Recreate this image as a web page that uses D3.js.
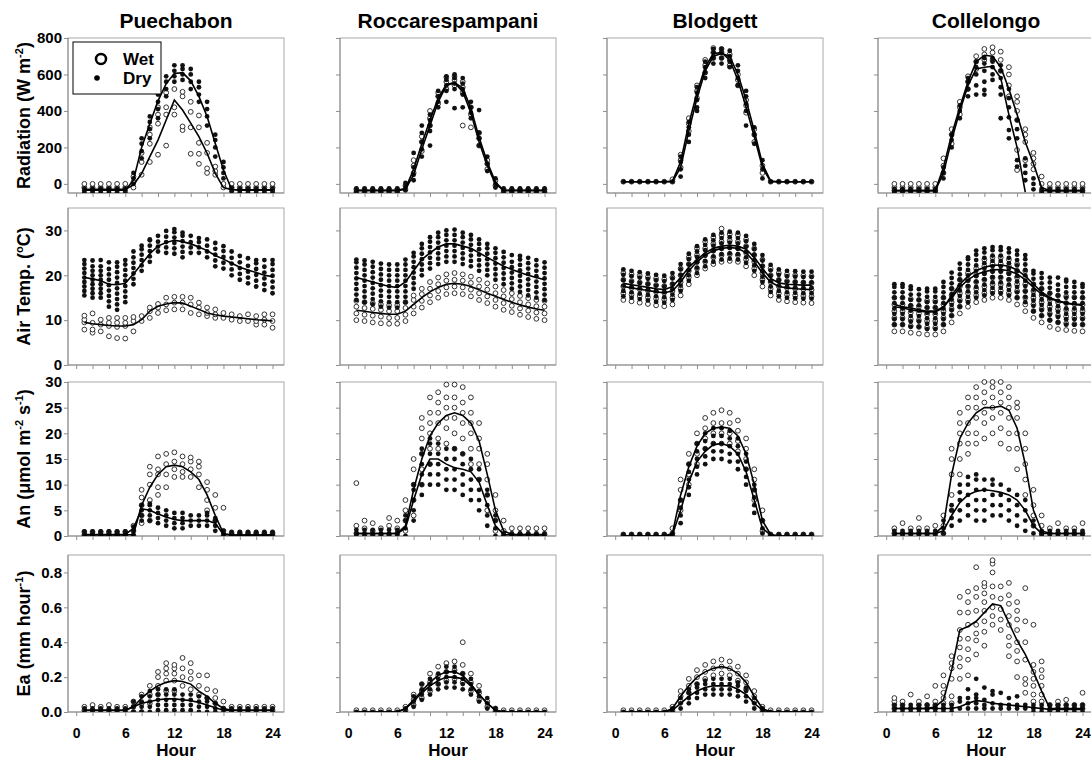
<!DOCTYPE html>
<html>
<head>
<meta charset="utf-8">
<script src="https://cdn.jsdelivr.net/npm/d3@7"></script>
<style>
  body { margin: 0; background: #fff; }
  svg text { font-family: "Liberation Sans", Arial, sans-serif; font-weight: bold; fill: #000; }
</style>
</head>
<body>
<svg id="chart" width="1091" height="761"></svg>
<script>
"use strict";

const HOURS = [1,2,3,4,5,6,7,8,9,10,11,12,13,14,15,16,17,18,19,20,21,22,23,24];
const SITES = ["Puechabon", "Roccarespampani", "Blodgett", "Collelongo"];
const X_MINOR_TICKS = [0,2,4,6,8,10,12,14,16,18,20,22,24];
const X_TICK_LABELS = [0, 6, 12, 18, 24];
const Y_DOMAINS = [[-50, 800], [0, 35], [0, 30], [0, 0.9]];
const Y_TICKS = [[0,200,400,600,800], [0,10,20,30], [0,5,10,15,20,25,30], [0,0.2,0.4,0.6,0.8]];
const Y_LABELS = [
    [["Radiation (W m", false], ["-2", true], [")", false]],
    [["Air Temp. (", false], ["o", true], ["C)", false]],
    [["An (\u03bcmol m", false], ["-2", true], [" s", false], ["-1", true], [")", false]],
    [["Ea (mm hour", false], ["-1", true], [")", false]]
];

// ---- Radiation (W m-2), one array per site ----
const RAD_WET_LINE = [
    [-30,-30,-30,-30,-30,-30,-5,57,150,240,350,460,405,333,259,168,58,-20,-32,-32,-32,-32,-32,-32],
    [-35,-35,-35,-35,-35,-35,-25,80,220,350,470,545,555,505,390,230,100,0,-35,-35,-35,-35,-35,-35],
    [12,12,12,12,12,12,15,120,330,500,640,715,720,680,570,420,260,90,12,12,12,12,12,12],
    [-37,-37,-37,-37,-37,-37,90,270,420,560,670,705,700,640,520,380,230,110,-20,-37,-37,-37,-37,-37]
];
const RAD_DRY_LINE = [
    [-35,-35,-35,-35,-35,-35,20,200,330,455,550,605,610,565,480,370,222,76,-30,-35,-35,-35,-35,-35],
    [-37,-37,-37,-37,-37,-37,-30,50,190,320,450,540,555,525,415,255,120,10,-37,-37,-37,-37,-37,-37],
    [12,12,12,12,12,12,12,90,290,470,620,700,715,700,600,460,290,110,15,12,12,12,12,12],
    [-37,-37,-37,-37,-37,-37,60,240,400,540,630,640,645,580,380,200,-45,null,-37,-37,-37,-37,-37,-37]
];
const RAD_WET_PTS = [
    [[-20,0],[-20,0],[-20,0],[-20,0],[-20,0],[-20,0],[-20,10,40],[50,120,170],[120,220,270,310],[160,330,380,420],[210,380,420,500],[380,420,520],[295,315,480,505],[165,310,395,450],[110,165,225,310,375],[60,85,170,225],[50,70,95],[-20,0],[-20,0],[-20,0],[-20,0],[-20,0],[-20,0],[-20,0]],
    [[-45,-30],[-45,-30],[-45,-30],[-45,-30],[-45,-30],[-45,-30],[-30,-10],[60,100,130],[180,230,260],[320,360,400],[440,480,500],[520,560,585],[540,570,590],[320,500,530,560],[310,380,420],[210,250,280],[80,110,130],[-10,20],[-45,-30],[-45,-30],[-45,-30],[-45,-30],[-45,-30],[-45,-30]],
    [[12],[12],[12],[12],[12],[12],[12,25],[90,130,160],[290,330,360],[470,510,540],[610,650,680],[690,720,745],[690,720,740],[650,680,710],[540,570,600],[390,430,460],[230,270,300],[60,100],[12],[12],[12],[12],[12],[12]],
    [[-37,-20,0],[-37,-20,0],[-37,-20,0],[-37,-20,0],[-37,-20,0],[-37,-20,0],[60,100,140],[220,270,300],[380,420,450],[520,560,590],[630,670,700],[680,710,740],[680,720,749],[620,680,725],[480,540,600,640],[76,186,350,400,450,480],[130,230,270,300],[80,110,140,170],[0,40],[-37,-20,0],[-37,-20,0],[-37,-20,0],[-37,-20,0],[-37,-20,0]]
];
const RAD_DRY_PTS = [
    [[-45,-35,-25],[-45,-35,-25],[-45,-35,-25],[-45,-35,-25],[-45,-35,-25],[-45,-35,-25],[0,30,60],[140,180,220,250],[250,300,340,370],[360,410,450,490],[480,520,560,590],[560,590,620,650],[570,600,630,650],[520,560,600,630],[450,490,530,560],[320,370,410,450],[150,200,240,270],[30,60,90,120],[-40,-30,-20],[-45,-35,-25],[-45,-35,-25],[-45,-35,-25],[-45,-35,-25],[-45,-35,-25]],
    [[-50,-37,-25],[-50,-37,-25],[-50,-37,-25],[-50,-37,-25],[-50,-37,-25],[-50,-37,-25],[-35,-15,5],[20,50,90,170],[150,190,230,280,320],[210,290,320,350,380],[420,450,480,510],[450,510,540,570,590],[415,520,550,580,600],[420,490,520,550,580],[360,390,420,450],[210,250,280,405],[70,110,150],[-20,0,30],[-50,-37,-25],[-50,-37,-25],[-50,-37,-25],[-50,-37,-25],[-50,-37,-25],[-50,-37,-25]],
    [[12],[12],[12],[12],[12],[12],[12],[40,80,120,150],[230,270,310,340],[400,420,460,500,530],[580,610,640,670],[660,690,720,740],[660,690,720,740],[640,670,700,730],[540,580,620,650],[320,400,440,480,510],[220,270,310],[30,80,130],[12],[12],[12],[12],[12],[12]],
    [[-45,-37,-28],[-45,-37,-28],[-45,-37,-28],[-45,-37,-28],[-45,-37,-28],[-45,-37,-28],[30,60,90],[200,240,270],[360,400,430],[480,520,560,580],[490,540,600,640,670],[490,515,560,620,660,690],[570,600,640,670,690],[360,490,530,580,620,650],[250,295,365,420,470,520],[95,130,250,300,350],[20,60,100,140],[-30,0,30],[-45,-37,-28],[-45,-37,-28],[-45,-37,-28],[-45,-37,-28],[-45,-37,-28],[-45,-37,-28]]
];

// ---- Air temperature (oC) ----
const TEMP_WET_LINE = [
    [9.5,9.2,9,8.8,8.7,8.7,9,10.1,12,13.1,13.6,13.9,13.8,13.1,12.4,11.6,11.2,10.9,10.7,10.5,10.3,10.1,10,9.8],
    [12.2,12,11.7,11.5,11.3,11.3,12,13.5,15,16.3,17.3,18,18.2,18,17.5,16.8,16,15.3,14.6,14,13.4,12.9,12.5,12.2],
    [17.5,17.2,16.9,16.6,16.3,16.1,16.5,18.5,21,23,24.5,25.5,26,26.2,26,25,23,20.5,18.5,17.5,17.2,17,16.9,16.8],
    [13,12.7,12.3,12,11.8,11.8,12.8,15.5,18,19.8,21,21.8,22.2,22.3,22,21.2,19.8,18,16.3,15,14.3,13.8,13.5,13.3]
];
const TEMP_DRY_LINE = [
    [19.5,19.2,18.8,18,17.9,18.2,20.3,22.5,24.8,26.5,27.3,27.8,27.5,27,26.3,25.5,24.4,23.6,22.7,21.8,21.2,20.6,20,19.7],
    [19.5,19,18.5,18,17.5,17.3,18.5,21,23.5,25,26.3,27,27,26.5,26,25,24,23,22,21.3,20.6,20,19.5,19],
    [18.2,17.9,17.6,17.3,17,16.8,17.5,19.5,21.8,23.5,25,26,26.5,26.7,26.5,25.8,24,21.5,19.3,18.3,18,17.9,17.8,17.8],
    [13.5,13,12.7,12.3,12,12,13,15,17.3,19,20.2,20.8,21.2,21.3,21,20.3,19,17.3,15.8,14.8,14.2,13.8,13.6,13.5]
];
const TEMP_WET_PTS = [
    [[7.9,9.5,10.1,11],[7.2,7.9,9.4,11.5],[7.5,9,10.1],[6.4,8.7,9.4,10.5],[6,8.5,9.4,10.5],[5.9,8.7,9.4,10.5],[7.5,9.8,10.7],[9.8,10.9],[10.5,12,12.8],[11.6,12.8,13.6],[12.2,13.5,15],[12.4,13.9,15.2],[12.4,13.9,15.2],[11.6,13.5,15],[11.3,12.8,13.9],[10.9,11.6,12.8],[10.5,11.3,12.4],[10.5,11.6],[10.1,11.3],[9.8,10.9],[9.8,11.3],[9,9.8,10.9],[9,10.1,11.3],[8.3,9.8,11.3]],
    [[10,11.5,13,14.3],[9.8,11.2,12.7,14],[9.5,11,12.5,13.8],[9.3,10.8,12.3,13.5],[9.2,10.5,12,13.3],[9.2,10.5,12,13.3],[9.8,11.2,12.7,14],[11.5,13,14.5,15.5],[12.8,14.3,15.8,17],[14,15.5,17,18.5],[15,16.5,18,19.5],[15.8,17.3,18.8,20.2],[16,17.5,19,20.5],[15.8,17.3,18.8,20.2],[15.3,16.8,18.3,19.7],[14.5,16,17.5,19],[13.8,15.3,16.8,18.2],[13,14.5,16,17.5],[12.3,13.8,15.3,16.7],[11.8,13.2,14.7,16],[11.2,12.6,14,15.4],[10.7,12.1,13.5,14.9],[10.3,11.7,13.1,14.5],[10,11.5,13,14.3]],
    [[14.5,16,17.5,19,20.5],[14.2,15.7,17.2,18.7,20.2],[13.9,15.4,16.9,18.4,19.9],[13.6,15.1,16.6,18.1,19.6],[13.3,14.8,16.3,17.8,19.3],[13.1,14.6,16.1,17.6,19.1],[13.5,15,16.5,18,19.5],[15.5,17,18.5,20,21.5],[18,19.5,21,22.5,24],[20,21.5,23,24.5,26],[21.5,23,24.5,26,27.5],[22.5,24,25.5,27,28.5],[23,24.5,26,27.5,29,30.4],[23.2,24.7,26.2,27.7,29.2],[23,24.5,26,27.5,29],[22,23.5,25,26.5,28],[20,21.5,23,24.5,26],[17.5,19,20.5,22,23.5],[15.5,17,18.5,20,21.5],[14.5,16,17.5,19,20.5],[14.2,15.7,17.2,18.7,20.2],[14,15.5,17,18.5,20],[13.9,15.4,16.9,18.4,19.9],[13.8,15.3,16.8,18.3,19.8]],
    [[7.5,9,10.5,12,13.5,15],[7.5,9,10.5,12,13.5,15],[7.2,8.7,10.2,11.7,13.2,14.7],[7,8.5,10,11.5,13,14.5],[6.8,8.3,9.8,11.3,12.8,14.3],[6.8,8.3,9.8,11.3,12.8,14.3],[7.5,9,10.5,12,13.5,15],[9.5,11,12.5,14,15.5,17],[11.5,13,14.5,16,17.5,19],[13,14.5,16,17.5,19,20.5],[14,15.5,17,18.5,20,21.5],[14.5,16,17.5,19,20.5,22,23.5],[15,16.5,18,19.5,21,22.5,24],[15,16.5,18,19.5,21,22.5,24],[14.5,16,17.5,19,20.5,22,23.5],[13.5,15,16.5,18,19.5,21,22.5],[12,13.5,15,16.5,18,19.5,21],[10.5,12,13.5,15,16.5,18],[9.5,11,12.5,14,15.5,17],[8.5,10,11.5,13,14.5,16],[8,9.5,11,12.5,14,15.5],[7.8,9.3,10.8,12.3,13.8,15.3],[7.6,9.1,10.6,12.1,13.6,15.1],[7.5,9,10.5,12,13.5,15]]
];
const TEMP_DRY_PTS = [
    [[15.5,16.5,17.5,18.5,19.5,20.5,21.5,22.5,23.4],[15,16,17,18,19,20,21,22,23.3],[15,16,17,18,19,20,21,22,23.4],[13,14.2,15.4,16.6,17.8,19,20.2,21.4,22.9],[12.3,13.5,14.7,15.9,17.1,18.3,19.5,20.7,21.9,22.9],[14,15.2,16.4,17.6,18.8,20,21.2,22.4,23.4],[18,19.2,20.4,21.6,22.8,24,25.3],[21,22.2,23.4,24.6,25.8,26.6],[23,24.2,25.4,26.6,27.8,28],[25.3,26.4,27.5,28.8],[25,26.2,27.4,28.6,29.9],[24.8,26,27.2,28.4,29.6,30.3],[24,25.2,26.4,27.6,28.8,29.5],[25,26.2,27.4,28.8],[25,26.2,27.4,28.3],[24,25.3,26.6,28],[22,23.3,24.6,25.9,27.2],[21.5,22.8,24.1,25.4,26.5],[20,21.3,22.6,23.9,25.3],[19,20.3,21.6,22.9,24.3],[18.2,19.5,20.8,22.1,23.8],[17.5,18.8,20.1,21.4,22.7,23.4],[16.7,18,19.3,20.6,21.9,23.4],[16,17.3,18.6,19.9,21.2,22.5,23.4]],
    [[14.5,15.7,16.9,18.1,19.3,20.5,21.7,22.9,23.5],[14,15.2,16.4,17.6,18.8,20,21.2,22.4,23.3],[13.5,14.7,15.9,17.1,18.3,19.5,20.7,21.9,23],[13,14.2,15.4,16.6,17.8,19,20.2,21.4,22.6],[12.8,14,15.2,16.4,17.6,18.8,20,21.2,22.4],[12.8,14,15.2,16.4,17.6,18.8,20,21.2,22.4],[14,15.2,16.4,17.6,18.8,20,21.2,22.4,23.5],[17,18.2,19.4,20.6,21.8,23,24.2,25],[20,21.2,22.4,23.6,24.8,26,27],[21.5,22.7,23.9,25.1,26.3,27.5,28.5],[22.5,23.7,24.9,26.1,27.3,28.5,29.5],[23,24.2,25.4,26.6,27.8,29,30],[23,24.2,25.4,26.6,27.8,29,30.2],[22.5,23.7,24.9,26.1,27.3,28.5,29.5],[22,23.2,24.4,25.6,26.8,28,29],[21,22.2,23.4,24.6,25.8,27,28],[20,21.2,22.4,23.6,24.8,26,27],[19,20.2,21.4,22.6,23.8,25,26],[18,19.2,20.4,21.6,22.8,24,25.2],[17,18.2,19.4,20.6,21.8,23,24.5],[16.3,17.5,18.7,19.9,21.1,22.3,23.5,24.3],[15.5,16.7,17.9,19.1,20.3,21.5,22.7,23.9],[15,16.2,17.4,18.6,19.8,21,22.2,23.4],[14.5,15.7,16.9,18.1,19.3,20.5,21.7,22.9]],
    [[15.3,16.5,17.7,18.9,20.1,21.3],[15,16.2,17.4,18.6,19.8,21],[14.7,15.9,17.1,18.3,19.5,20.7],[14.4,15.6,16.8,18,19.2,20.4],[14.1,15.3,16.5,17.7,18.9,20.1],[13.9,15.1,16.3,17.5,18.7,19.9],[14.5,15.7,16.9,18.1,19.3,20.5],[16.5,17.7,18.9,20.1,21.3,22.5],[18.8,20,21.2,22.4,23.6,24.8],[20.5,21.7,22.9,24.1,25.3,26.5],[22,23.2,24.4,25.6,26.8,28],[23,24.2,25.4,26.6,27.8,29],[23.5,24.7,25.9,27.1,28.3,29.5],[23.7,24.9,26.1,27.3,28.5,29.7],[23.5,24.7,25.9,27.1,28.3,29.5],[22.8,24,25.2,26.4,27.6,28.8],[21,22.2,23.4,24.6,25.8,27],[18.5,19.7,20.9,22.1,23.3,24.5],[16.3,17.5,18.7,19.9,21.1,22.3],[15.3,16.5,17.7,18.9,20.1,21.3],[15,16.2,17.4,18.6,19.8,21],[14.9,16.1,17.3,18.5,19.7,20.9],[14.8,16,17.2,18.4,19.6,20.8],[14.8,16,17.2,18.4,19.6,20.8]],
    [[9,10.2,11.4,12.6,13.8,15,16.2,17.4,18],[9,10.2,11.4,12.6,13.8,15,16.2,17.4,18],[8.5,9.7,10.9,12.1,13.3,14.5,15.7,16.9,17.5],[8.5,9.7,10.9,12.1,13.3,14.5,15.7,16.9],[8,9.2,10.4,11.6,12.8,14,15.2,16.4,17],[8,9.2,10.4,11.6,12.8,14,15.2,16.4,17],[9,10.2,11.4,12.6,13.8,15,16.2,17.4,18.5],[11,12.2,13.4,14.6,15.8,17,18.2,19.4,20.6],[13,14.2,15.4,16.6,17.8,19,20.2,21.4,22.6],[14,15.2,16.4,17.6,18.8,20,21.2,22.4,23.6,24],[15,16.2,17.4,18.6,19.8,21,22.2,23.4,24.6,25.5],[15.5,16.7,17.9,19.1,20.3,21.5,22.7,23.9,25.1,26],[16,17.2,18.4,19.6,20.8,22,23.2,24.4,25.6,26.3],[16,17.2,18.4,19.6,20.8,22,23.2,24.4,25.6,26.3],[15.5,16.7,17.9,19.1,20.3,21.5,22.7,23.9,25.1,26],[15,16.2,17.4,18.6,19.8,21,22.2,23.4,24.6,25.5],[14,15.2,16.4,17.6,18.8,20,21.2,22.4,23.6,24.5],[12,13.2,14.4,15.6,16.8,18,19.2,20.4,21],[11,12.2,13.4,14.6,15.8,17,18.2,19.4,20.5],[10,11.2,12.4,13.6,14.8,16,17.2,18.4,19.5],[9.5,10.7,11.9,13.1,14.3,15.5,16.7,17.9,19.5],[9,10.2,11.4,12.6,13.8,15,16.2,17.4,18.6,19],[9,10.2,11.4,12.6,13.8,15,16.2,17.4,18.5],[9,10.2,11.4,12.6,13.8,15,16.2,17.4,18]]
];

// ---- Net assimilation An (umol m-2 s-1) ----
const AN_WET_LINE = [
    [0.2,0.2,0.2,0.2,0.2,0.2,0.3,6,9.5,12,13.5,13.8,13.5,12.5,11,8,4,0.5,0.2,0.2,0.2,0.2,0.2,0.2],
    [0.5,0.5,0.5,0.5,0.5,0.5,2,9,15,19.5,22,23.5,24,23.5,22,18.5,12,5,1,0.3,0.3,0.3,0.3,0.3],
    [0,0,0,0,0,0,0.5,8,13.5,17.5,20,21,21.2,21,19.5,16,10,3,0.3,0,0,0,0,0],
    [0.5,0.5,0.5,0.5,0.5,0.5,2,12,19,22,24,25,25,25.3,24.5,21,14,5,1,0.5,0.5,0.5,0.5,0.5]
];
const AN_DRY_LINE = [
    [0.3,0.3,0.3,0.3,0.3,0.3,1.5,5.3,5,4.3,3.7,3.2,3,3,3,3,2.5,0.3,0.2,0.2,0.2,0.2,0.2,0.2],
    [0.5,0.5,0.5,0.5,0.5,0.5,1.5,7,12,15,15,14,13.3,13,12.5,10.5,6,2,0.3,0.2,0.2,0.2,0.2,0.2],
    [0,0,0,0,0,0,0.3,5,10.5,14.5,16.5,17.8,18,17.5,16,12.5,7,1.5,0.2,0,0,0,0,0],
    [0.5,0.5,0.5,0.5,0.5,0.5,1,4,6.5,8,8.7,9,8.8,8.5,8,7,5,2,0.5,0.5,0.5,0.5,0.5,0.5]
];
const AN_WET_PTS = [
    [[0.2,0.8],[0.2,0.8],[0.2,0.8],[0.2,0.8],[0.2,0.8],[0.2,0.8],[0,1,2],[2.5,4,6,7.5,9],[3,7,10,12,13.5],[8,9.5,12,13,15.5],[9.5,12,14,16],[11.5,13,14.5,16.3],[11.5,12.5,14,15.5],[11.5,13,14.5,15.3],[9.5,12,13.5,14.5],[5,7,9,10.5],[3,5.5,8],[0,1,5.5],[0.2,0.6],[0.2,0.6],[0.2,0.6],[0.2,0.6],[0.2,0.6],[0.2,0.6]],
    [[0.5,2,10.3],[0.3,1.5,3],[0.3,1,2.5],[0.3,1.5],[0.3,2,3.5],[0.5,1.5,3],[1,3,5,7],[4,7,10,13,15],[10,13,16,19,21,23],[14,17,20,22,24,27],[17,19,22,24,26,28],[18,21,23,25,27,29.5],[17,20,23,25,27,29.5],[16,19,22,24,26,29],[14,17,20,22,24,27],[11,14,17,19,22],[5,8,11,14,16],[1,3,5,8],[0,1,3],[0.3,1.5],[0.3,1.5],[0.3,1.5],[0.3,1.5],[0.3,1.5]],
    [[0,0.3],[0,0.3],[0,0.3],[0,0.3],[0,0.3],[0,0.3],[0,0.5,1.5],[5,7,9,11],[10,12,14,16],[14,16,18,20],[17,19,21,23],[18,20,22,24],[18,20,22,24.5],[18,20,22,24],[16.5,18.5,20.5,22.5],[13,15,17,19],[7,9,11,13],[1,3,5],[0,0.3],[0,0.3],[0,0.3],[0,0.3],[0,0.3],[0,0.3]],
    [[0.5,1.5],[0.5,2.5],[0.5,1.5],[0.5,1.5,3.5],[0.5,1.5],[0.5,2],[0.5,2,4],[5,8,12,15,17],[12,15,18,20,22,24],[16,18,20,22,25,27],[18,20,23,25,27,29],[19,22,24,26,28,30],[20,23,25,27,29,30],[18,21,24,26,28,30],[17,20,23,25,27,29],[13,17,20,23,25,26],[8,11,14,17,20],[2,4,6,9],[0.5,2,4],[0.5,1.5],[0.5,2.5],[0.5,1.5],[0.5,1.5],[0.5,2.5]]
];
const AN_DRY_PTS = [
    [[0,0.4,0.9],[0,0.4,0.9],[0,0.4,0.9],[0,0.4,0.9],[0,0.4,0.9],[0,0.4,0.9],[0.3,1,1.8],[3,4,5,6],[3,4,5,6,6.3],[2.5,3.5,4.5,5.5],[2,3,4,5],[1.5,2.5,3.5,4.5],[1.5,2.5,3.5,4.5],[2,3,4],[2,3,4],[2,3,4,4.5],[1,2,3,3.5],[0,0.5,1],[0,0.4,0.8],[0,0.4,0.8],[0,0.4,0.8],[0,0.4,0.8],[0,0.4,0.8],[0,0.4,0.8]],
    [[0,0.5,1.2],[0,0.5,1.2],[0,0.5,1.2],[0,0.5,1.2],[0,0.5,1.2],[0,0.5,1.2],[0,1.5,3,4],[3,5,7,9,10],[8,10,12,14,16,17],[10,12,14,16,18,19],[10,12,14,16,18],[9,11,13,15,17],[9,11,13,15,17],[8,10,12,14,16],[7,9,11,13,15],[5,7,9,11,13],[2,4,6,8,9],[0,1.5,3,4],[0,0.5],[0,0.5],[0,0.5],[0,0.5],[0,0.5],[0,0.5]],
    [[0,0.3],[0,0.3],[0,0.3],[0,0.3],[0,0.3],[0,0.3],[0,0.5],[2.5,4,5.5,7],[8,9.5,11,12.5,14],[12,13.5,15,16.5,18],[14,15.5,17,18.5,20],[15,16.5,18,19.5,21],[15,16.5,18,19.5,21],[14.5,16,17.5,19,20.5],[13,14.5,16,17.5,19],[10,11.5,13,14.5,16],[4.5,6,7.5,9,10],[0.5,1.5,3],[0,0.3],[0,0.3],[0,0.3],[0,0.3],[0,0.3],[0,0.3]],
    [[0,0.5,1],[0,0.5,1],[0,0.5,1],[0,0.5,1],[0,0.5,1],[0,0.5,1],[0.5,1.5,3],[2,3.5,5,6],[3,5,7,8.5,10],[4,6,8,10,11.5],[3,5,7,9,11,12],[3,5,7,9,11],[4,6,8,10,11],[4,6,8,10],[3,5,7,9],[2,4,6,8],[1,3,5,7],[0.5,2,3],[0,0.5,1],[0,0.5,1],[0,0.5,1],[0,0.5,1],[0,0.5,1],[0,0.5,1]]
];

// ---- Actual evapotranspiration Ea (mm hour-1) ----
const EA_WET_LINE = [
    [0.01,0.01,0.01,0.01,0.01,0.01,0.03,0.08,0.12,0.15,0.17,0.18,0.175,0.16,0.12,0.09,0.05,0.02,0.01,0.01,0.01,0.01,0.01,0.01],
    [0,0,0,0,0,0,0.02,0.07,0.12,0.17,0.21,0.23,0.23,0.21,0.16,0.1,0.05,0.01,0,0,0,0,0,0],
    [0,0,0,0,0,0,0.02,0.09,0.15,0.2,0.23,0.25,0.26,0.25,0.22,0.17,0.09,0.02,0,0,0,0,0,0],
    [0.02,0.02,0.02,0.02,0.02,0.03,0.07,0.24,0.47,0.49,0.52,0.57,0.62,0.61,0.51,0.41,0.33,0.23,0.12,0.02,0.02,0.02,0.02,0.02]
];
const EA_DRY_LINE = [
    [0.01,0.01,0.01,0.01,0.01,0.01,0.03,0.05,0.06,0.07,0.075,0.075,0.07,0.065,0.055,0.04,0.025,0.01,0.01,0.01,0.01,0.01,0.01,0.01],
    [0,0,0,0,0,0,0.02,0.06,0.11,0.15,0.18,0.2,0.2,0.19,0.15,0.1,0.05,0.01,0,0,0,0,0,0],
    [0,0,0,0,0,0,0.01,0.05,0.09,0.12,0.14,0.15,0.15,0.15,0.13,0.1,0.05,0.01,0,0,0,0,0,0],
    [0.02,0.02,0.02,0.02,0.02,0.02,0.02,0.02,0.03,0.05,0.065,0.06,0.05,0.045,0.04,0.035,0.03,0.025,0.02,0.015,0.015,0.015,0.015,0.015]
];
const EA_WET_PTS = [
    [[0.01,0.03],[0.01,0.04],[0.01,0.03],[0.01,0.04],[0.01,0.03],[0.01,0.03],[0,0.03,0.06],[0,0.05,0.1],[0.05,0.1,0.15],[0.1,0.15,0.2,0.23],[0.12,0.18,0.22,0.25,0.28],[0.12,0.18,0.22,0.25,0.27],[0.15,0.2,0.25,0.31],[0.13,0.19,0.23,0.28],[0.1,0.15,0.21],[0.08,0.13,0.21],[0.05,0.08,0.12],[0.02,0.06],[0.01,0.03],[0.01,0.03],[0.01,0.03],[0.01,0.03],[0.01,0.03],[0.01,0.03]],
    [[0,0.01],[0,0.01],[0,0.01],[0,0.01],[0,0.01],[0,0.01],[0.01,0.03],[0.04,0.07,0.1],[0.08,0.12,0.16],[0.12,0.17,0.22],[0.16,0.21,0.26],[0.18,0.23,0.28],[0.19,0.24,0.29],[0.17,0.22,0.27,0.4],[0.12,0.17,0.22],[0.07,0.11,0.15],[0.03,0.06],[0.005,0.02],[0,0.01],[0,0.01],[0,0.01],[0,0.01],[0,0.01],[0,0.01]],
    [[0,0.01],[0,0.01],[0,0.01],[0,0.01],[0,0.01],[0,0.01],[0.01,0.03],[0.06,0.09,0.12],[0.11,0.15,0.19],[0.16,0.2,0.24],[0.19,0.23,0.27],[0.21,0.25,0.29],[0.22,0.26,0.3],[0.21,0.25,0.29],[0.18,0.22,0.26],[0.13,0.17,0.21],[0.06,0.09,0.12],[0.01,0.03],[0,0.01],[0,0.01],[0,0.01],[0,0.01],[0,0.01],[0,0.01]],
    [[0.02,0.04,0.06,0.08],[0.02,0.04,0.06],[0.02,0.1],[0.02,0.04,0.06],[0.02,0.04,0.09],[0.02,0.04,0.06,0.15],[0.02,0.05,0.08,0.11,0.15,0.21],[0.05,0.09,0.19,0.25,0.28,0.32],[0.19,0.26,0.31,0.37,0.42,0.47,0.57,0.66],[0.21,0.3,0.36,0.42,0.5,0.57,0.63,0.69],[0.33,0.41,0.45,0.5,0.58,0.66,0.71,0.83],[0.38,0.46,0.52,0.58,0.63,0.68,0.72,0.74],[0.5,0.55,0.6,0.66,0.72,0.8,0.85,0.87],[0.47,0.53,0.59,0.65,0.72],[0.32,0.38,0.43,0.5,0.55,0.62,0.67,0.74],[0.2,0.29,0.35,0.4,0.47,0.53,0.58,0.63],[0.11,0.16,0.19,0.3,0.4,0.52,0.71],[0.06,0.1,0.15,0.19,0.23,0.27,0.5],[0.06,0.1,0.15,0.2,0.24,0.29],[0.01,0.04],[0.02,0.04,0.06],[0.02,0.04,0.07],[0.02,0.04],[0.02,0.04,0.11]]
];
const EA_DRY_PTS = [
    [[0,0.02],[0,0.02],[0,0.02],[0,0.02],[0,0.02],[0,0.02],[0,0.03,0.06],[0,0.03,0.06,0.09],[0,0.03,0.06,0.09,0.12],[0.01,0.04,0.07,0.1,0.13],[0.01,0.04,0.07,0.1,0.13],[0.01,0.04,0.07,0.1,0.13],[0.01,0.04,0.07,0.1],[0.01,0.04,0.07,0.1],[0,0.03,0.06,0.09],[0,0.03,0.06,0.08],[0,0.02,0.05],[0,0.02],[0,0.02],[0,0.02],[0,0.02],[0,0.02],[0,0.02],[0,0.02]],
    [[0],[0],[0],[0],[0],[0],[0,0.02],[0.03,0.06,0.09],[0.07,0.1,0.13,0.16],[0.1,0.13,0.16,0.19],[0.13,0.16,0.19,0.22],[0.14,0.17,0.2,0.23,0.26],[0.14,0.17,0.2,0.23,0.26],[0.13,0.16,0.19,0.22],[0.1,0.13,0.16,0.19],[0.06,0.09,0.12],[0.02,0.05,0.08],[0,0.02],[0],[0],[0],[0],[0],[0]],
    [[0],[0],[0],[0],[0],[0],[0,0.02],[0.02,0.05,0.08],[0.05,0.08,0.11,0.13],[0.08,0.11,0.14,0.16],[0.1,0.13,0.16,0.18],[0.1,0.13,0.16,0.19],[0.1,0.13,0.16,0.19],[0.1,0.13,0.16,0.19],[0.09,0.12,0.15,0.17],[0.06,0.09,0.12,0.14],[0.02,0.05,0.08],[0,0.02],[0],[0],[0],[0],[0],[0]],
    [[0,0.02,0.04],[0,0.02,0.04],[0,0.02,0.04],[0,0.02,0.04],[0,0.02,0.04],[0,0.02,0.04],[0,0.02,0.04],[0,0.02,0.04],[0.02,0.06,0.08],[0.02,0.05,0.08,0.13],[0.02,0.05,0.08,0.1,0.19],[0.02,0.04,0.07,0.14],[0.02,0.05,0.1,0.12],[0.02,0.04,0.11],[0.02,0.04,0.08],[0.02,0.04,0.09],[0.02,0.04],[0,0.02,0.04],[0,0.02,0.04],[0,0.02,0.04],[0,0.02,0.04],[0,0.02,0.04],[0,0.02,0.04],[0,0.02,0.04]]
];

const ROWS = [
    {wetLine: RAD_WET_LINE, dryLine: RAD_DRY_LINE, wetPts: RAD_WET_PTS, dryPts: RAD_DRY_PTS},
    {wetLine: TEMP_WET_LINE, dryLine: TEMP_DRY_LINE, wetPts: TEMP_WET_PTS, dryPts: TEMP_DRY_PTS},
    {wetLine: AN_WET_LINE, dryLine: AN_DRY_LINE, wetPts: AN_WET_PTS, dryPts: AN_DRY_PTS},
    {wetLine: EA_WET_LINE, dryLine: EA_DRY_LINE, wetPts: EA_WET_PTS, dryPts: EA_DRY_PTS}
];

// layout
const COL_LEFT = [68, 340, 607, 878];
const PANEL_W = 216;
const ROW_TOP = [38, 208, 382, 555];
const ROW_BOTTOM = [193, 365, 536, 712];
const X_DOMAIN = [-1, 25.4];
const DOT_R = 2.4;
const AXIS_COLOR = "#8f8f8f";

const svg = d3.select("#chart");

function flattenPoints(perHour) {
    const out = [];
    perHour.forEach(function (vals, i) {
        vals.forEach(function (v) {
            out.push({h: HOURS[i], v: v});
        });
    });
    return out;
}

function lineData(values) {
    return values.map(function (v, i) {
        return {h: HOURS[i], v: v};
    });
}

function styleAxis(g, size) {
    g.select(".domain").remove();
    g.selectAll(".tick line").attr("stroke", AXIS_COLOR);
    g.selectAll(".tick text")
        .attr("font-family", "'Liberation Sans', Arial, sans-serif")
        .attr("font-weight", "bold")
        .attr("font-size", size || 15)
        .attr("fill", "#000");
}

function drawPanel(row, col) {
    const left = COL_LEFT[col];
    const top = ROW_TOP[row];
    const bottom = ROW_BOTTOM[row];
    const data = ROWS[row];

    const x = d3.scaleLinear().domain(X_DOMAIN).range([left, left + PANEL_W]);
    const y = d3.scaleLinear().domain(Y_DOMAINS[row]).range([bottom, top]);

    const clipId = "clip-" + row + "-" + col;
    svg.append("clipPath")
        .attr("id", clipId)
        .append("rect")
        .attr("x", left)
        .attr("y", top - 3)
        .attr("width", PANEL_W)
        .attr("height", bottom - top + 3);

    svg.append("rect")
        .attr("x", left)
        .attr("y", top)
        .attr("width", PANEL_W)
        .attr("height", bottom - top)
        .attr("fill", "none")
        .attr("stroke", "#a8a8a8")
        .attr("stroke-width", 1);

    // minor x ticks everywhere
    const xMinor = svg.append("g")
        .attr("transform", "translate(0," + bottom + ")")
        .call(d3.axisBottom(x).tickValues(X_MINOR_TICKS).tickSize(4).tickFormat(""));
    styleAxis(xMinor);

    if (row === ROWS.length - 1) {
        const xLab = svg.append("g")
            .attr("transform", "translate(0," + bottom + ")")
            .call(d3.axisBottom(x).tickValues(X_TICK_LABELS).tickSize(0).tickPadding(16));
        styleAxis(xLab, 14);
    }

    const fmt = row === 3 ? d3.format(".1f") : d3.format("d");
    const yAxis = svg.append("g")
        .attr("transform", "translate(" + left + ",0)")
        .call(d3.axisLeft(y).tickValues(Y_TICKS[row]).tickSize(4).tickPadding(2)
            .tickFormat(col === 0 ? fmt : function () { return ""; }));
    styleAxis(yAxis);

    // bottom and left axis lines
    svg.append("line")
        .attr("x1", left).attr("x2", left + PANEL_W)
        .attr("y1", bottom).attr("y2", bottom)
        .attr("stroke", AXIS_COLOR);
    svg.append("line")
        .attr("x1", left).attr("x2", left)
        .attr("y1", top).attr("y2", bottom)
        .attr("stroke", AXIS_COLOR);

    const plot = svg.append("g").attr("clip-path", "url(#" + clipId + ")");

    plot.selectAll("circle.wet")
        .data(flattenPoints(data.wetPts[col]))
        .enter()
        .append("circle")
        .attr("class", "wet")
        .attr("cx", function (d) { return x(d.h); })
        .attr("cy", function (d) { return y(d.v); })
        .attr("r", DOT_R)
        .attr("fill", "#fff")
        .attr("stroke", "#333")
        .attr("stroke-width", 1);

    plot.selectAll("circle.dry")
        .data(flattenPoints(data.dryPts[col]))
        .enter()
        .append("circle")
        .attr("class", "dry")
        .attr("cx", function (d) { return x(d.h); })
        .attr("cy", function (d) { return y(d.v); })
        .attr("r", DOT_R)
        .attr("fill", "#111");

    const line = d3.line()
        .defined(function (d) { return d.v !== null; })
        .x(function (d) { return x(d.h); })
        .y(function (d) { return y(d.v); });

    [data.wetLine[col], data.dryLine[col]].forEach(function (vals) {
        plot.append("path")
            .datum(lineData(vals))
            .attr("d", line)
            .attr("fill", "none")
            .attr("stroke", "#000")
            .attr("stroke-width", 1.6);
    });
}

for (let r = 0; r < ROWS.length; r++) {
    for (let c = 0; c < SITES.length; c++) {
        drawPanel(r, c);
    }
}

// site titles and x labels
SITES.forEach(function (site, c) {
    const cx = COL_LEFT[c] + PANEL_W / 2;
    svg.append("text")
        .attr("x", cx)
        .attr("y", 28)
        .attr("text-anchor", "middle")
        .attr("font-size", 21)
        .text(site);
    svg.append("text")
        .attr("x", cx)
        .attr("y", 756)
        .attr("text-anchor", "middle")
        .attr("font-size", 17)
        .text("Hour");
});

// y labels with superscripts
Y_LABELS.forEach(function (parts, r) {
    const cy = (ROW_TOP[r] + ROW_BOTTOM[r]) / 2;
    const t = svg.append("text")
        .attr("transform", "translate(30," + cy + ") rotate(-90)")
        .attr("text-anchor", "middle")
        .attr("font-size", 18);
    let prevSup = false;
    parts.forEach(function (p) {
        const sup = p[1];
        t.append("tspan")
            .attr("font-size", sup ? 11 : 18)
            .attr("dy", sup ? -7 : (prevSup ? 7 : 0))
            .text(p[0]);
        prevSup = sup;
    });
});

// legend
const legend = svg.append("g");
legend.append("rect")
    .attr("x", 73).attr("y", 42)
    .attr("width", 88).attr("height", 52)
    .attr("fill", "#fff")
    .attr("stroke", "#000")
    .attr("stroke-width", 1);
legend.append("circle")
    .attr("cx", 101).attr("cy", 59).attr("r", 5)
    .attr("fill", "#fff").attr("stroke", "#000").attr("stroke-width", 2.5);
legend.append("circle")
    .attr("cx", 97).attr("cy", 78).attr("r", 2.8)
    .attr("fill", "#000");
legend.append("text").attr("x", 123).attr("y", 65).attr("font-size", 17).text("Wet");
legend.append("text").attr("x", 123).attr("y", 84).attr("font-size", 17).text("Dry");
</script>
</body>
</html>
